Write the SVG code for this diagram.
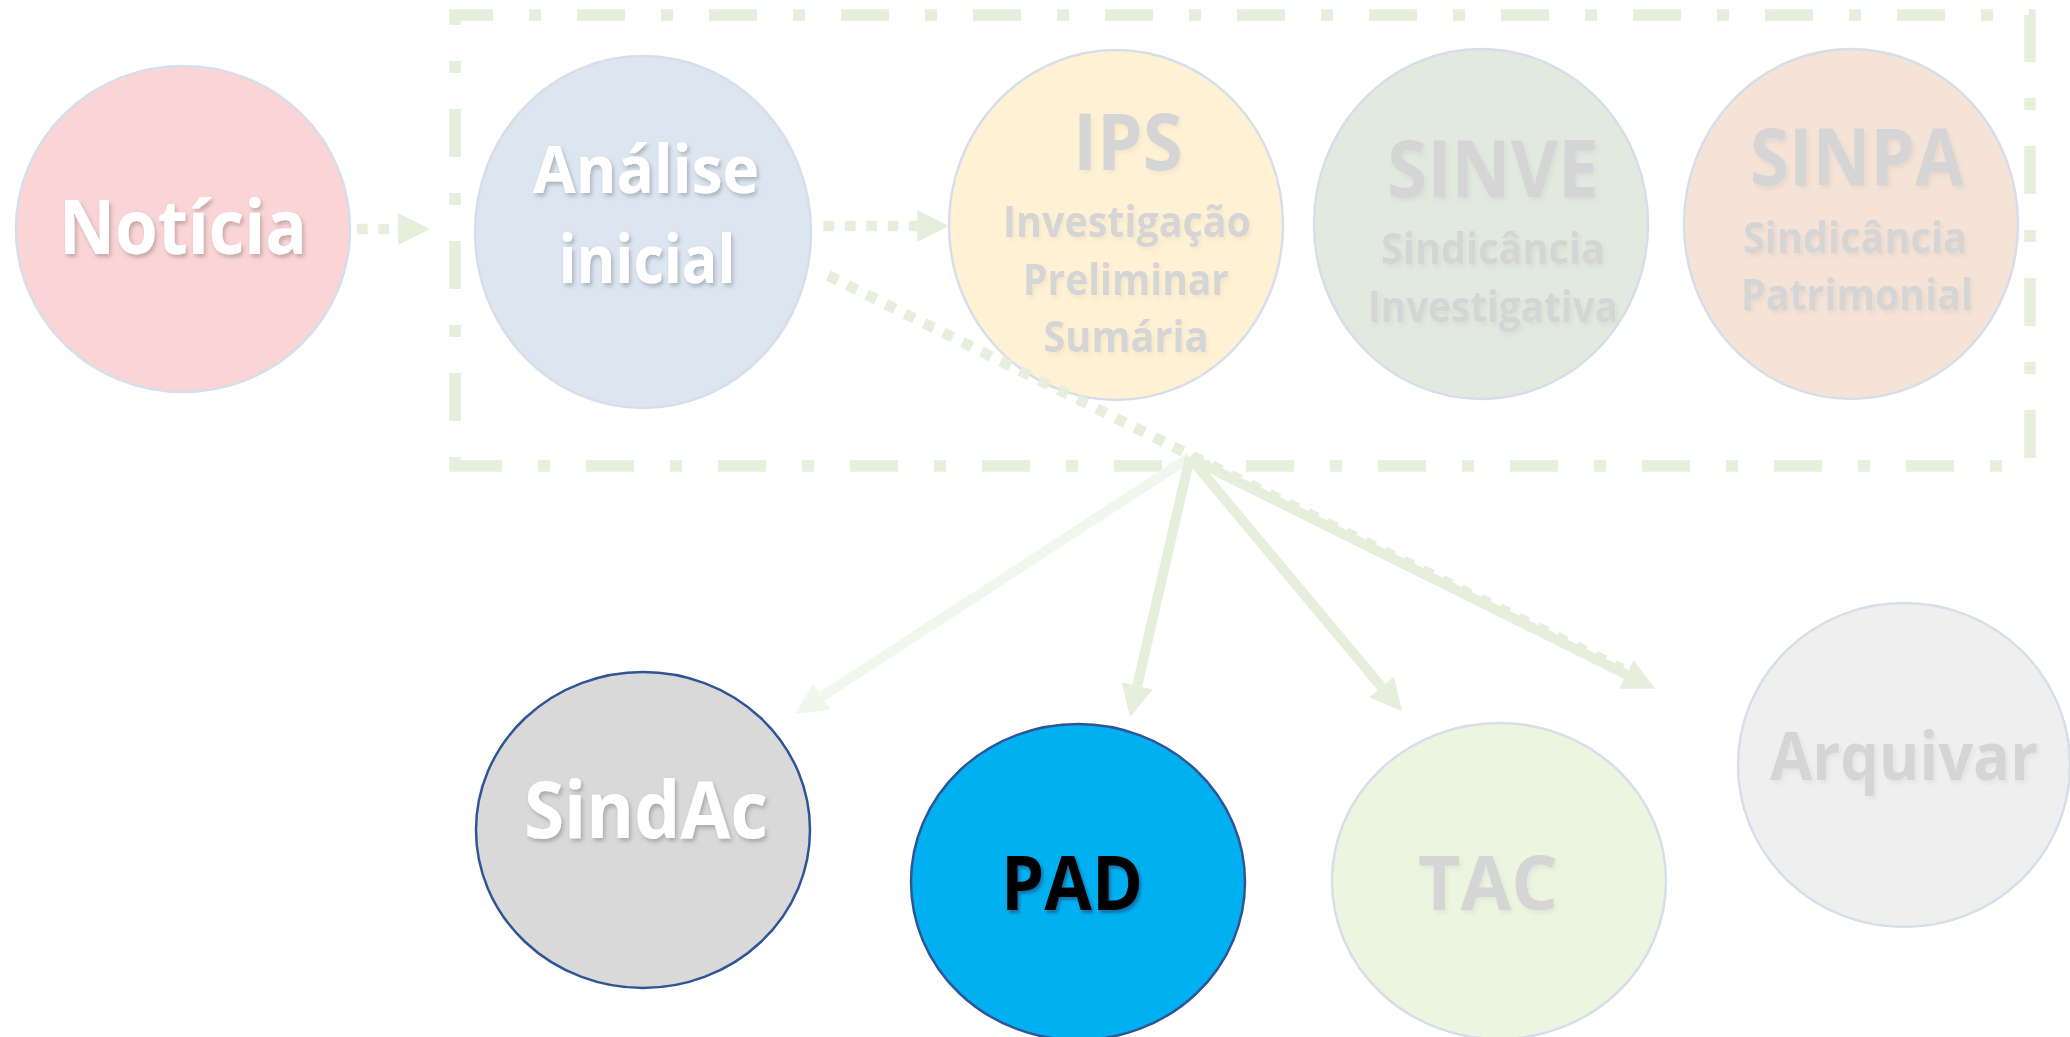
<svg xmlns="http://www.w3.org/2000/svg" width="2070" height="1037" viewBox="0 0 2070 1037">
<defs>
<style>
.t{font-family:"Open Sans","Noto Sans","Liberation Sans",sans-serif;font-weight:700;text-anchor:middle}
.w{fill:#ffffff;filter:url(#sh)}
.g{fill:#d5d5d5;filter:url(#shl)}
.k{fill:#000000;filter:url(#shb)}
.soft{stroke:#d6deea;stroke-width:2.5}
.dark{stroke:#2f5597;stroke-width:2.5}
.dot{fill:none;stroke:#e5efdc;stroke-width:10.7;stroke-dasharray:10.7 10.7}
.sol{fill:none;stroke:#e5efdc;stroke-width:10;marker-end:url(#ah)}
.faint{fill:none;stroke:#f2f7ed;stroke-width:10;marker-end:url(#ahf)}
</style>
<filter id="sh" x="-10%" y="-20%" width="130%" height="150%"><feDropShadow dx="2" dy="3" stdDeviation="2" flood-color="#000" flood-opacity="0.22"/></filter>
<filter id="shl" x="-10%" y="-20%" width="130%" height="150%"><feDropShadow dx="2" dy="3" stdDeviation="2" flood-color="#000" flood-opacity="0.05"/></filter>
<filter id="shb" x="-10%" y="-20%" width="130%" height="150%"><feDropShadow dx="2" dy="3" stdDeviation="1.5" flood-color="#1f3864" flood-opacity="0.5"/></filter>
<marker id="ah" markerUnits="userSpaceOnUse" markerWidth="32" markerHeight="32" viewBox="0 0 32 32" refX="0" refY="16" orient="auto" overflow="visible"><path d="M0,0 L32,16 L0,32 Z" fill="#e5efdc"/></marker>
<marker id="ahf" markerUnits="userSpaceOnUse" markerWidth="32" markerHeight="32" viewBox="0 0 32 32" refX="0" refY="16" orient="auto" overflow="visible"><path d="M0,0 L32,16 L0,32 Z" fill="#f2f7ed"/></marker>
</defs>
<rect width="2070" height="1037" fill="#ffffff"/>
<g id="frame">
<path d="M455,466 V15 H2030 V466 Z" fill="none" stroke="#e5efdc" stroke-width="11.5" stroke-dasharray="48 36 12 36" stroke-dashoffset="87"/>
</g>
<g id="noticia">
<ellipse cx="183" cy="229" rx="167" ry="163" fill="#fbd5d5" class="soft"/>
<text class="t w" x="183" y="254" font-size="76" textLength="248" lengthAdjust="spacingAndGlyphs">Notícia</text>
</g>
<g id="analise">
<ellipse cx="643" cy="232" rx="168" ry="176" fill="#dce6f1" class="soft"/>
<text class="t w" x="646" y="193" font-size="67" textLength="226" lengthAdjust="spacingAndGlyphs">Análise</text>
<text class="t w" x="647" y="283" font-size="67" textLength="177" lengthAdjust="spacingAndGlyphs">inicial</text>
</g>
<g id="ips">
<ellipse cx="1116" cy="225" rx="167" ry="175" fill="#fff2d4" class="soft"/>
<text class="t g" x="1128" y="170" font-size="78" textLength="110" lengthAdjust="spacingAndGlyphs">IPS</text>
<text class="t g" x="1127" y="237" font-size="43" textLength="248" lengthAdjust="spacingAndGlyphs">Investigação</text>
<text class="t g" x="1126" y="295" font-size="43" textLength="206" lengthAdjust="spacingAndGlyphs">Preliminar</text>
<text class="t g" x="1126" y="352" font-size="43" textLength="165" lengthAdjust="spacingAndGlyphs">Sumária</text>
</g>
<g id="sinve">
<ellipse cx="1481" cy="224" rx="167" ry="175" fill="#e2eadf" class="soft"/>
<text class="t g" x="1493" y="197" font-size="78" textLength="212" lengthAdjust="spacingAndGlyphs">SINVE</text>
<text class="t g" x="1493" y="264" font-size="43" textLength="224" lengthAdjust="spacingAndGlyphs">Sindicância</text>
<text class="t g" x="1493" y="322" font-size="43" textLength="250" lengthAdjust="spacingAndGlyphs">Investigativa</text>
</g>
<g id="sinpa">
<ellipse cx="1851" cy="224" rx="167" ry="175" fill="#f4e3d6" class="soft"/>
<text class="t g" x="1857" y="185" font-size="78" textLength="214" lengthAdjust="spacingAndGlyphs">SINPA</text>
<text class="t g" x="1855" y="253" font-size="43" textLength="224" lengthAdjust="spacingAndGlyphs">Sindicância</text>
<text class="t g" x="1857" y="310" font-size="43" textLength="232" lengthAdjust="spacingAndGlyphs">Patrimonial</text>
</g>
<g id="sindac">
<ellipse cx="643" cy="830" rx="167" ry="158" fill="#d9d9d9" class="dark"/>
<text class="t w" x="646" y="838" font-size="79" textLength="244" lengthAdjust="spacingAndGlyphs">SindAc</text>
</g>
<g id="pad">
<ellipse cx="1078" cy="882" rx="167" ry="158" fill="#00b0f0" class="dark"/>
<text class="t k" x="1072" y="910" font-size="75" textLength="142" lengthAdjust="spacingAndGlyphs">PAD</text>
</g>
<g id="tac">
<ellipse cx="1499" cy="881" rx="167" ry="158" fill="#ebf5e0" class="soft"/>
<text class="t g" x="1488" y="910" font-size="75" textLength="140" lengthAdjust="spacingAndGlyphs">TAC</text>
</g>
<g id="arquivar">
<ellipse cx="1904" cy="765" rx="166" ry="162" fill="#efefef" class="soft"/>
<text class="t g" x="1904" y="780" font-size="66" textLength="268" lengthAdjust="spacingAndGlyphs">Arquivar</text>
</g>
<g id="connectors">
<path class="dot" d="M357,229 H398" marker-end="url(#ah)"/>
<path class="dot" d="M823.5,226 H917.3" marker-end="url(#ah)"/>
<path class="faint" d="M1190,457 L821.8,696.6"/>
<path class="sol" d="M1190,457 L1137.2,685.8"/>
<path class="sol" d="M1192,460 L1381.7,687"/>
<path class="dot" d="M828.2,275.6 L1622,669"/>
<path class="sol" d="M1190,458 L1626.5,674.5"/>
</g>
</svg>
